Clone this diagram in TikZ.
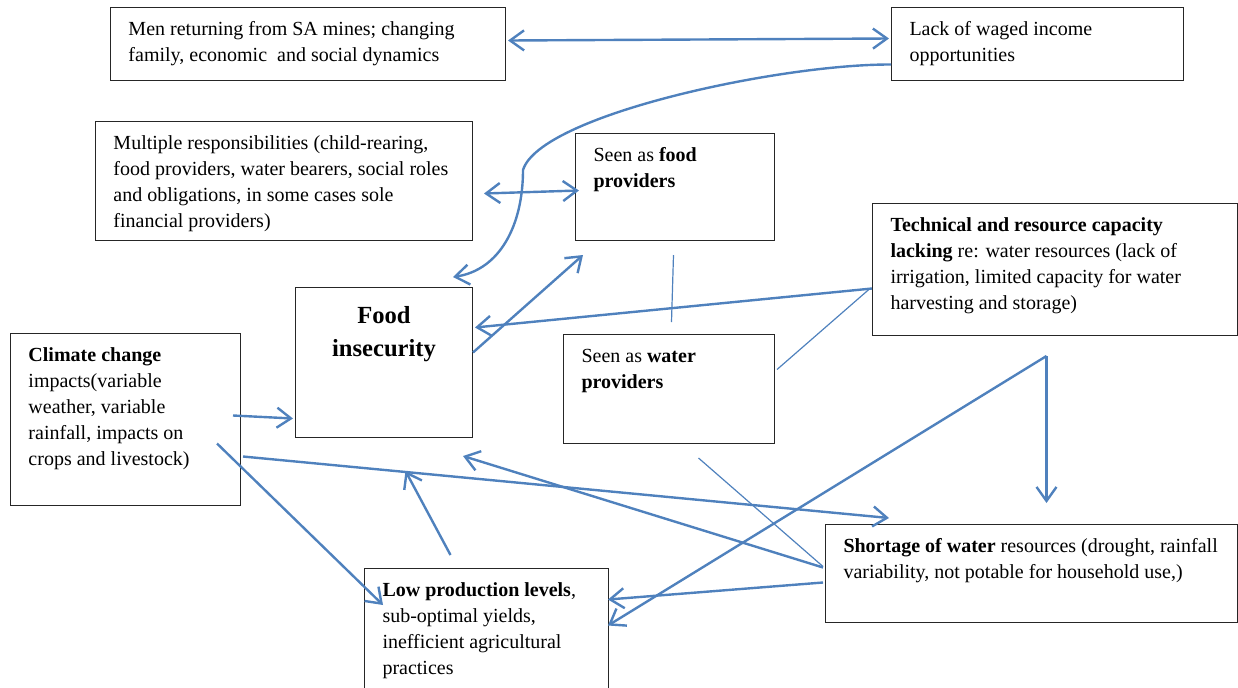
\documentclass[tikz,border=0pt]{standalone}
\usepackage{fontspec}
\setmainfont{Liberation Serif}
\usetikzlibrary{arrows.meta, positioning}

\definecolor{linkblue}{RGB}{79,129,189}
\newcommand{\boxtxt}[3]{\parbox[t][#2][t]{#1}{\leftskip=9pt\rightskip=0pt plus 1fil\parfillskip=0pt plus 1fil\strut #3}}

\begin{document}
\begin{tikzpicture}[
    x=0.5pt, y=-0.5pt,
    box/.style={rectangle, draw=black!85, line width=0.5pt, anchor=north west, inner xsep=0pt, inner ysep=5pt, font=\fontsize{10}{13}\selectfont},
    link/.style={->, >={Straight Barb[length=7pt, width=10pt]}, draw=linkblue, line width=1.2pt},
    both/.style={link, <->},
    tie/.style={draw=linkblue, line width=0.6pt}
]
\useasboundingbox (0,0) rectangle (1238,687);

% Top row
\node[box] (men) at (110,7) {\boxtxt{197.5pt}{26.5pt}{Men returning from SA mines; changing\\ family, economic\ \ and social dynamics}};
\node[box] (wages) at (891,7) {\boxtxt{146pt}{26.5pt}{Lack of waged income\\ opportunities}};

% Roles
\node[box] (duties) at (95,121) {\boxtxt{188.5pt}{49.5pt}{Multiple responsibilities (child-rearing,\\ food providers, water bearers, social roles\\ and obligations, in some cases sole\\ financial providers)}};
\node[box] (foodrole) at (575,133) {\boxtxt{99.5pt}{43.5pt}{Seen as \textbf{food}\\ \textbf{providers}}};
\node[box] (waterrole) at (563,334) {\boxtxt{105.5pt}{44.5pt}{Seen as \textbf{water}\\ \textbf{providers}}};

% Centre
\node[box] (insec) at (295,287) {\parbox[t][65pt][t]{88.5pt}{\centering\fontsize{12.3}{16.5}\selectfont\bfseries\rule{0pt}{13pt}Food\\ insecurity}};

% Drivers
\node[box] (techcap) at (872,203) {\boxtxt{182.5pt}{56pt}{\textbf{Technical and resource capacity}\\ \textbf{lacking} re: water resources (lack of\\ irrigation, limited capacity for water\\ harvesting and storage)}};
\node[box] (climate) at (10,333) {\boxtxt{115pt}{76pt}{\textbf{Climate change}\\ impacts(variable\\ weather, variable\\ rainfall, impacts on\\ crops and livestock)}};
\node[box] (shortage) at (825,524) {\boxtxt{206pt}{39pt}{\textbf{Shortage of water} resources (drought, rainfall\\ variability, not potable for household use,)}};
\node[box] (lowprod) at (364,568) {\boxtxt{122pt}{51pt}{\textbf{Low production levels},\\ sub-optimal yields,\\ inefficient agricultural\\ practices}};

% Connections
\draw[both] ([shift={(1pt,1.75pt)}]men.east) -- ([shift={(-1pt,2.75pt)}]wages.west);
\draw[link] ([yshift=-10.25pt]wages.west) .. controls (780,64) and (540,115) .. (523,170)
    .. controls (523,225) and (500,270) .. ([shift={(-10pt,5pt)}]insec.north east);
\draw[both] ([shift={(5.5pt,-6.25pt)}]duties.east) -- ([shift={(2pt,-1.75pt)}]foodrole.west);
\draw[link] ([yshift=5pt]insec.east) -- ([shift={(4pt,-7pt)}]foodrole.south west);
\draw[link] ([yshift=-9.5pt]techcap.west) -- ([shift={(1pt,17.5pt)}]insec.east);
\draw[tie] ([shift={(-0.75pt,-7pt)}]foodrole.south) -- ([shift={(1.25pt,6pt)}]waterrole.north);
\draw[tie] ([shift={(1pt,9.75pt)}]waterrole.east) -- ([shift={(-1pt,-9.5pt)}]techcap.west);

% Water capacity split
\coordinate (split) at ([shift={(-4.25pt,-10pt)}]techcap.south);
\draw[link] (split) -- ([yshift=10.5pt]split |- shortage.north);
\draw[link] (split) -- ([shift={(-0.5pt,2pt)}]lowprod.east);

% Climate links
\draw[link] ([shift={(-4pt,2pt)}]climate.east) -- ([shift={(-1pt,-28pt)}]insec.west);
\draw[link] ([shift={(1pt,-18.5pt)}]climate.east) -- ([shift={(32pt,3pt)}]shortage.north west);
\draw[link] ([shift={(-12pt,-12pt)}]climate.east) -- ([shift={(9.5pt,-18.5pt)}]lowprod.north west);

% Production and shortage
\draw[link] ([shift={(-18pt,6.5pt)}]lowprod.north) -- ([shift={(10.75pt,-16.5pt)}]insec.south);
\draw[link] ([shift={(-1pt,3pt)}]shortage.west) -- ([shift={(-5pt,-9pt)}]insec.south east);
\draw[link] ([shift={(-1pt,-4.5pt)}]shortage.west) -- ([shift={(-0.5pt,15pt)}]lowprod.east);
\draw[tie] ([shift={(14.75pt,-7pt)}]waterrole.south) -- ([shift={(-1pt,3.5pt)}]shortage.west);

\end{tikzpicture}
\end{document}
